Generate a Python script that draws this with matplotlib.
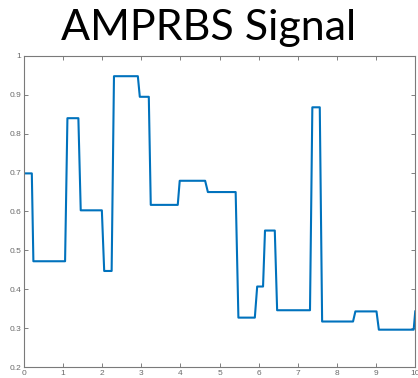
import numpy as np
import matplotlib.pyplot as plt

# vertices of the AMPRBS signal (time, amplitude)
t = [0.0, 0.20, 0.24, 1.05, 1.11, 1.39, 1.45, 1.99, 2.05, 2.24, 2.30, 2.91, 2.96,
     3.19, 3.24, 3.93, 3.98, 4.63, 4.70, 5.41, 5.48, 5.90, 5.96, 6.11, 6.16, 6.41,
     6.47, 7.31, 7.37, 7.56, 7.62, 8.41, 8.47, 9.01, 9.07, 9.96, 10.0]
u = [0.698, 0.698, 0.472, 0.472, 0.840, 0.840, 0.603, 0.603, 0.447, 0.447, 0.948, 0.948, 0.895,
     0.895, 0.617, 0.617, 0.679, 0.679, 0.650, 0.650, 0.327, 0.327, 0.407, 0.407, 0.551, 0.551,
     0.346, 0.346, 0.868, 0.868, 0.317, 0.317, 0.343, 0.343, 0.296, 0.296, 0.343]

xticks = np.arange(0, 11)
yticks = [0.2, 0.3, 0.4, 0.5, 0.6, 0.7, 0.8, 0.9, 1]
yticklabels = ['0.2', '0.3', '0.4', '0.5', '0.6', '0.7', '0.8', '0.9', '1']

plt.rcParams['font.family'] = 'Liberation Sans'

fig = plt.figure(figsize=(4.18, 3.78), dpi=100)
ax = fig.add_axes([0.0574, 0.0291, 0.936, 0.8228])

ax.plot(t, u, color='#0072BD', linewidth=1.5)

ax.set_xlim(0, 10)
ax.set_ylim(0.2, 1)
ax.set_xticks(xticks)
ax.set_yticks(yticks)
ax.set_yticklabels(yticklabels)
ax.tick_params(direction='in', length=3, width=0.6, colors='#6a6a6a',
               labelsize=6, top=True, right=True, pad=2)
for s in ax.spines.values():
    s.set_color('#7a7a7a')
    s.set_linewidth(0.8)

fig.text(0.5, 0.975, 'AMPRBS Signal', ha='center', va='top',
         fontsize=31, family='Lato')

fig.savefig('out.png', dpi=100)
